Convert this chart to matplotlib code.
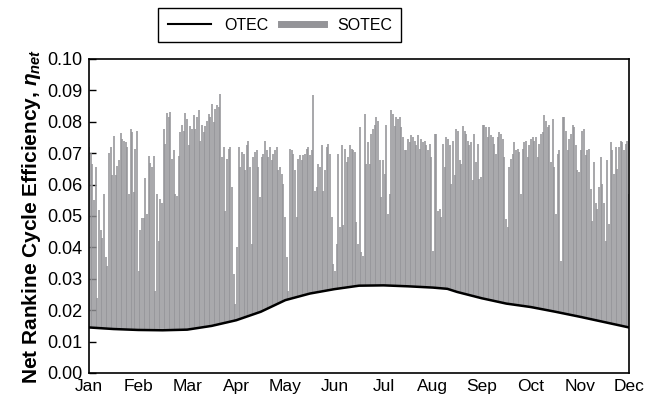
import numpy as np
import matplotlib.pyplot as plt
from matplotlib.lines import Line2D
from matplotlib.ticker import FormatStrFormatter

plt.rcParams['font.family'] = ['Liberation Sans', 'DejaVu Sans']
plt.rcParams['mathtext.fontset'] = 'custom'
plt.rcParams['mathtext.it'] = 'Liberation Sans:italic:bold'
plt.rcParams['mathtext.rm'] = 'Liberation Sans:bold'

months = ['Jan', 'Feb', 'Mar', 'Apr', 'May', 'Jun',
          'Jul', 'Aug', 'Sep', 'Oct', 'Nov', 'Dec']

# OTEC net efficiency (x in months from Jan)
otec_pos = [0, 0.5, 1, 1.5, 2, 2.5, 3, 3.5, 4, 4.5, 5, 5.5,
            6, 6.5, 7, 7.3, 7.5, 8, 8.5, 9, 9.5, 10, 10.5, 11]
otec_val = [0.0145, 0.0140, 0.0137, 0.0136, 0.0138, 0.0150, 0.0168, 0.0195,
            0.0232, 0.0253, 0.0267, 0.0278, 0.0279, 0.0276, 0.0272, 0.0268,
            0.0258, 0.0238, 0.0221, 0.0210, 0.0195, 0.0179, 0.0162, 0.0145]

# SOTEC daily peaks, read left to right off the grey spikes
peaks_jan_mar = [0.072, 0.070, 0.0666, 0.055, 0.0655, 0.024, 0.052, 0.0455, 0.043,
                 0.057, 0.037, 0.034, 0.070, 0.072, 0.063, 0.0756, 0.063, 0.066,
                 0.0678, 0.0764, 0.0745, 0.074, 0.0735, 0.072, 0.057, 0.0778,
                 0.0767, 0.0575, 0.0714, 0.0772, 0.0325, 0.0455, 0.0495, 0.0495,
                 0.062, 0.0505, 0.069, 0.067, 0.0655, 0.069, 0.026, 0.057, 0.042,
                 0.0555, 0.054, 0.0778, 0.073, 0.0828, 0.0815, 0.083, 0.068, 0.071,
                 0.057, 0.0565, 0.069, 0.0767, 0.079, 0.0772, 0.0828, 0.081,
                 0.0725, 0.0788, 0.0778, 0.082]
peaks_mar_may = [0.0778, 0.0815, 0.0836, 0.074, 0.079, 0.0767, 0.0788, 0.0804,
                 0.0826, 0.0815, 0.0857, 0.0799, 0.0841, 0.0852, 0.0847, 0.0889,
                 0.0687, 0.0719, 0.0517, 0.0682, 0.0714, 0.072, 0.0591, 0.0315,
                 0.022, 0.040, 0.072, 0.0655, 0.0703, 0.0698, 0.0645, 0.0725,
                 0.074, 0.0655, 0.041, 0.0687, 0.0703, 0.0709, 0.0655, 0.056,
                 0.0687, 0.0698, 0.074, 0.0709, 0.0687, 0.072, 0.0677, 0.0698,
                 0.0709, 0.072, 0.0645, 0.0655, 0.0634, 0.0602, 0.0496, 0.0368,
                 0.0262, 0.0714, 0.0709, 0.0698, 0.0645, 0.0496, 0.0682, 0.0693,
                 0.0677, 0.0693]
peaks_may_jul = [0.0698, 0.0714, 0.072, 0.0693, 0.0709, 0.0884, 0.0581, 0.0591,
                 0.0666, 0.0655, 0.0725, 0.0581, 0.0645, 0.072, 0.073, 0.0698,
                 0.0496, 0.0347, 0.0326, 0.041, 0.0698, 0.0464, 0.0725, 0.047,
                 0.0714, 0.0671, 0.0687, 0.0725, 0.0714, 0.0709, 0.0703, 0.048,
                 0.041, 0.0783, 0.0384, 0.0373, 0.0826, 0.0666, 0.0735, 0.0666,
                 0.0762, 0.0778, 0.079, 0.0815, 0.0804, 0.0677, 0.056, 0.0677,
                 0.0634, 0.079, 0.0506, 0.057, 0.0836, 0.0826, 0.0788, 0.0815,
                 0.081, 0.0815, 0.0783, 0.075, 0.0709, 0.0709, 0.0745, 0.0735,
                 0.0757]
peaks_jul_sep = [0.075, 0.074, 0.0725, 0.0757, 0.0714, 0.0745, 0.0735, 0.074,
                 0.0725, 0.0709, 0.073, 0.0687, 0.0389, 0.0762, 0.0762, 0.0517,
                 0.0522, 0.0496, 0.073, 0.0655, 0.075, 0.0745, 0.0725, 0.0602,
                 0.074, 0.0629, 0.0778, 0.0772, 0.0677, 0.0666, 0.0788, 0.0772,
                 0.0762, 0.074, 0.0725, 0.0735, 0.0613, 0.0762, 0.0671, 0.073,
                 0.0618, 0.0624, 0.079, 0.079, 0.0783, 0.075, 0.0783, 0.0757,
                 0.075, 0.073, 0.0698, 0.075, 0.0767, 0.0762, 0.0745, 0.0687,
                 0.0491, 0.0464, 0.0655, 0.0682, 0.0698, 0.0735, 0.0709, 0.0714,
                 0.0703]
peaks_sep_dec = [0.057, 0.0714, 0.0735, 0.074, 0.0687, 0.0725, 0.0745, 0.075,
                 0.074, 0.075, 0.0687, 0.073, 0.0762, 0.0767, 0.082, 0.0804,
                 0.0783, 0.079, 0.0671, 0.081, 0.0655, 0.0506, 0.0698, 0.0709,
                 0.0357, 0.0815, 0.0815, 0.0772, 0.0709, 0.0745, 0.0762, 0.079,
                 0.0783, 0.0725, 0.0645, 0.0639, 0.0709, 0.0772, 0.0778, 0.0693,
                 0.0709, 0.0714, 0.0586, 0.0485, 0.0671, 0.054, 0.0522, 0.0591,
                 0.0687, 0.0602, 0.054, 0.0421, 0.0677, 0.0475, 0.0735, 0.0709,
                 0.0634, 0.072, 0.065, 0.072, 0.074, 0.0735, 0.0709, 0.073,
                 0.074, 0.057]

sotec_peaks = np.array(peaks_jan_mar + peaks_mar_may + peaks_may_jul
                       + peaks_jul_sep + peaks_sep_dec)
spike_pos = np.linspace(0, 11, len(sotec_peaks))
spike_base = np.interp(spike_pos, otec_pos, otec_val)

grey = '#949498'

fig = plt.figure(figsize=(6.61, 3.99), dpi=100)
ax = fig.add_axes([0.1346, 0.0652, 0.817, 0.787])

ax.vlines(spike_pos, spike_base, sotec_peaks, color=grey, linewidth=1.15)
ax.plot(otec_pos, otec_val, color='black', linewidth=1.8)

ax.set_xlim(0, 11)
ax.set_ylim(0, 0.10)
ax.set_xticks(range(12))
ax.set_xticklabels(months)
ax.set_yticks(np.arange(0, 0.101, 0.01))
ax.yaxis.set_major_formatter(FormatStrFormatter('%.2f'))
ax.tick_params(axis='y', direction='in', length=5, width=1, labelsize=13, pad=5)
ax.tick_params(axis='x', length=0, labelsize=12.5, pad=4)
for s in ax.spines.values():
    s.set_linewidth(1.2)

ax.set_ylabel(r'Net Rankine Cycle Efficiency, $\eta_{net}$',
              fontsize=15, fontweight='bold', labelpad=3)

handles = [Line2D([], [], color='black', linewidth=1.5),
           Line2D([], [], color=grey, linewidth=5)]
fig.legend(handles, ['OTEC', 'SOTEC'], loc='center', ncol=2,
           bbox_to_anchor=(0.4236, 0.937), fontsize=11.5, frameon=True,
           fancybox=False, edgecolor='black', framealpha=1,
           handlelength=2.7, columnspacing=0.8, borderpad=0.6)

fig.savefig('out.png', dpi=100)
